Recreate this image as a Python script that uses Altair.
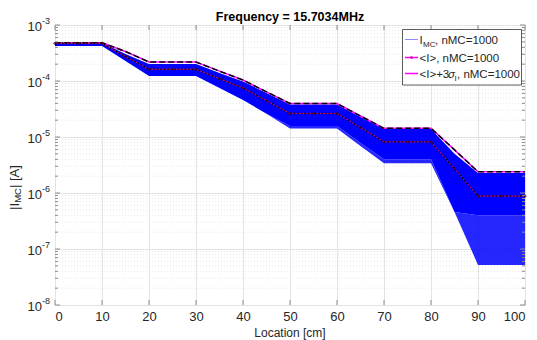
import altair as alt
import pandas as pd

# ---------------- data ----------------
x_cm = [0, 5, 10, 15, 20, 25, 30, 35, 40, 45, 50, 55, 60, 65, 70, 75, 80, 85, 90, 95, 100]

mean_plus_3sigma = [4.83e-4, 4.83e-4, 4.83e-4, 3.36e-4, 2.18e-4, 2.18e-4, 2.18e-4, 1.50e-4, 1.04e-4,
                    6.4e-5, 3.96e-5, 3.96e-5, 3.96e-5, 2.37e-5, 1.43e-5, 1.43e-5, 1.43e-5, 5.9e-6,
                    2.4e-6, 2.4e-6, 2.4e-6]
mc_top = [4.8e-4, 4.8e-4, 4.8e-4, 3.04e-4, 2.01e-4, 2.01e-4, 2.01e-4, 1.39e-4, 9.8e-5,
          6.1e-5, 3.8e-5, 3.8e-5, 3.8e-5, 2.27e-5, 1.39e-5, 1.39e-5, 1.39e-5, 5.0e-6,
          2.27e-6, 2.27e-6, 2.27e-6]
mean_I = [4.71e-4, 4.71e-4, 4.71e-4, 2.74e-4, 1.62e-4, 1.62e-4, 1.62e-4, 1.10e-4, 7.5e-5,
          4.45e-5, 2.63e-5, 2.63e-5, 2.63e-5, 1.48e-5, 8.2e-6, 8.2e-6, 8.2e-6, 2.7e-6,
          8.8e-7, 8.8e-7, 8.8e-7]
mc_dense_bottom = [4.2e-4, 4.2e-4, 4.2e-4, 2.28e-4, 1.23e-4, 1.23e-4, 1.23e-4, 7.5e-5, 4.6e-5,
                   2.6e-5, 1.57e-5, 1.57e-5, 1.57e-5, 7.8e-6, 4.0e-6, 4.0e-6, 4.0e-6, 4.6e-7,
                   4.0e-7, 4.0e-7, 4.0e-7]
mc_bottom = [4.2e-4, 4.2e-4, 4.2e-4, 2.28e-4, 1.23e-4, 1.23e-4, 1.23e-4, 7.5e-5, 4.6e-5,
             2.6e-5, 1.42e-5, 1.42e-5, 1.42e-5, 6.9e-6, 3.4e-6, 3.4e-6, 3.4e-6, 4.6e-7,
             5.2e-8, 5.2e-8, 5.2e-8]

x_ticks = [0, 10, 20, 30, 40, 50, 60, 70, 80, 90, 100]
y_decades = [1e-8, 1e-7, 1e-6, 1e-5, 1e-4, 1e-3]
y_exponents = ["-8", "-7", "-6", "-5", "-4", "-3"]
minor_mult = [2, 3, 4, 5, 6, 7, 8, 9]
y_minor = [m * d for d in y_decades[:-1] for m in minor_mult]

title_text = "Frequency = 15.7034MHz"
x_title = "Location [cm]"

# ---------------- layout ----------------
W, H = 470, 280
FONT = "Liberation Sans"
AXC = "#8c8c8c"
TXT = "#262626"

df = pd.DataFrame({
    "x": x_cm, "up": mean_plus_3sigma, "top": mc_top, "mean": mean_I,
    "dbot": mc_dense_bottom, "bot": mc_bottom,
})
xs = alt.Scale(domain=[0, 100], nice=False, zero=False)
ys = alt.Scale(type="log", domain=[1e-8, 1e-3], nice=False)

X = alt.X("x:Q", scale=xs,
          axis=alt.Axis(values=x_ticks, grid=True, gridColor="#e3e3e3", ticks=False, domain=False,
                        labelFontSize=13, labelColor=TXT, labelPadding=5, labelFont=FONT, title=None))
Yaxis = alt.Axis(values=y_decades, grid=True, gridColor="#e3e3e3", ticks=False, domain=False,
                 labels=False, title=None)

base = alt.Chart(df)

one = pd.DataFrame({"a": [0]})


def txt(s, x, y, size=12, bold=False, align="left", angle=0, baseline="alphabetic", color=TXT, style="normal"):
    kw = dict(text=s, fontSize=size, font=FONT, align=align, baseline=baseline, color=color,
              fontWeight="bold" if bold else "normal", fontStyle=style)
    if angle:
        kw["angle"] = angle
    return alt.Chart(one).mark_text(**kw).encode(x=alt.value(x), y=alt.value(y))


minor_grid = alt.Chart(pd.DataFrame({"v": y_minor})).mark_rule(
    color="#e6e6e6", strokeDash=[1, 2], strokeWidth=1
).encode(y=alt.Y("v:Q", scale=ys, axis=Yaxis))

sparse = base.mark_area(color="#0000ff", opacity=0.85, strokeWidth=0).encode(
    x=X, y=alt.Y("bot:Q", scale=ys, axis=Yaxis), y2="dbot:Q")
dense = base.mark_area(color="#0000ff", strokeWidth=0).encode(
    x=X, y=alt.Y("dbot:Q", scale=ys, axis=Yaxis), y2="top:Q")

up_mag = base.mark_line(color="#ff00ff", strokeWidth=1.5).encode(x=X, y=alt.Y("up:Q", scale=ys, axis=Yaxis))
up_blk = base.mark_line(color="black", strokeWidth=1.5, strokeDash=[6, 3]).encode(
    x=X, y=alt.Y("up:Q", scale=ys, axis=Yaxis))
mean_mag = base.mark_line(color="#e0007a", strokeWidth=1).encode(x=X, y=alt.Y("mean:Q", scale=ys, axis=Yaxis))
mean_blk = base.mark_line(color="black", strokeWidth=1.5, strokeDash=[1.5, 2]).encode(
    x=X, y=alt.Y("mean:Q", scale=ys, axis=Yaxis))
mean_pts = base.mark_point(color="#400020", filled=True, size=10, shape="circle").encode(
    x=X, y=alt.Y("mean:Q", scale=ys, axis=Yaxis))

# inward ticks
xt = pd.DataFrame({"v": x_ticks})
ticks_b = alt.Chart(xt).mark_rule(color=AXC).encode(x=alt.X("v:Q", scale=xs), y=alt.value(H), y2=alt.value(H - 5))
ticks_t = alt.Chart(xt).mark_rule(color=AXC).encode(x=alt.X("v:Q", scale=xs), y=alt.value(0), y2=alt.value(5))
yt = pd.DataFrame({"v": y_decades})
ym = pd.DataFrame({"v": y_minor})
ticks_l = alt.Chart(yt).mark_rule(color=AXC).encode(y=alt.Y("v:Q", scale=ys), x=alt.value(0), x2=alt.value(5))
ticks_r = alt.Chart(yt).mark_rule(color=AXC).encode(y=alt.Y("v:Q", scale=ys), x=alt.value(W), x2=alt.value(W - 5))
mticks_l = alt.Chart(ym).mark_rule(color=AXC).encode(y=alt.Y("v:Q", scale=ys), x=alt.value(0), x2=alt.value(3))
mticks_r = alt.Chart(ym).mark_rule(color=AXC).encode(y=alt.Y("v:Q", scale=ys), x=alt.value(W), x2=alt.value(W - 3))

# y tick labels with superscript exponents
ylab = pd.DataFrame({"v": y_decades, "e": y_exponents})
ylab_base = alt.Chart(ylab).mark_text(text="10", fontSize=13, font=FONT, align="right", baseline="middle",
                                      color=TXT, dy=2).encode(y=alt.Y("v:Q", scale=ys), x=alt.value(-13))
ylab_exp = alt.Chart(ylab).mark_text(fontSize=9, font=FONT, align="left", baseline="middle",
                                     color=TXT, dy=-4).encode(y=alt.Y("v:Q", scale=ys), x=alt.value(-13),
                                                              text="e:N")

# titles
title = txt(title_text, W / 2, -4.5, size=12.5, bold=True, align="center", color="black")
xtitle = txt(x_title, W / 2, 312, size=12, align="center")
yt1 = txt("|I", -40, 162.5 + 22.5, size=13, angle=270, baseline="middle")
yt2 = txt("MC", -37, 162.5 + 22.5 - 7.2, size=9.5, angle=270, baseline="middle")
yt3 = txt("| [A]", -40, 162.5 + 22.5 - 7.2 - 14.8, size=13, angle=270, baseline="middle")

# legend
LX0, LX1, LY0, LY1 = 347.5, 466.5, 4.5, 60
leg_box = alt.Chart(one).mark_rect(fill="white", stroke="#333333", strokeWidth=0.8).encode(
    x=alt.value(LX0), x2=alt.value(LX1), y=alt.value(LY0), y2=alt.value(LY1))
r1, r2, r3 = 14.5, 32.5, 48.5
sx0, sx1, tx = 350, 363, 364.5
leg_l1 = alt.Chart(one).mark_rule(color="#8c8cff").encode(x=alt.value(sx0), x2=alt.value(sx1), y=alt.value(r1))
leg_l2 = alt.Chart(one).mark_rule(color="#ff00ff", strokeWidth=1.5).encode(x=alt.value(sx0), x2=alt.value(sx1), y=alt.value(r2))
leg_p2 = alt.Chart(one).mark_point(color="#c0008a", filled=True, size=10, shape="circle").encode(
    x=alt.value((sx0 + sx1) / 2), y=alt.value(r2))
leg_l3 = alt.Chart(one).mark_rule(color="#ff00ff", strokeWidth=1.5).encode(x=alt.value(sx0), x2=alt.value(sx1), y=alt.value(r3))
LS = 11.5
leg_t1a = txt("I", tx, r1 + 4, size=LS)
leg_t1b = txt("MC", tx + 3.6, r1 + 7, size=8)
leg_t1c = txt(", nMC=1000", tx + 15.5, r1 + 4, size=LS)
leg_t2 = txt("<I>, nMC=1000", tx, r2 + 4, size=LS)
leg_t3a = txt("<I>+3", tx, r3 + 4, size=LS)
leg_t3b = txt("σ", tx + 28.5, r3 + 4, size=LS, style="italic")
leg_t3c = txt("I", tx + 35, r3 + 7, size=8)
leg_t3d = txt(", nMC=1000", tx + 37.5, r3 + 4, size=LS)

chart = alt.layer(
    minor_grid, sparse, dense, up_mag, up_blk, mean_mag, mean_blk, mean_pts,
    ticks_b, ticks_t, ticks_l, ticks_r, mticks_l, mticks_r,
    ylab_base, ylab_exp, title, xtitle, yt1, yt2, yt3,
    leg_box, leg_l1, leg_l2, leg_p2, leg_l3,
    leg_t1a, leg_t1b, leg_t1c, leg_t2, leg_t3a, leg_t3b, leg_t3c, leg_t3d,
).resolve_scale(x="shared", y="shared").properties(
    width=W, height=H, autosize="none",
    padding={"left": 55, "top": 25, "right": 12, "bottom": 35},
    background="white",
).configure_view(stroke=AXC, strokeWidth=1).configure(font=FONT)

chart.save("out.html", embed_options={"renderer": "svg", "actions": False})
